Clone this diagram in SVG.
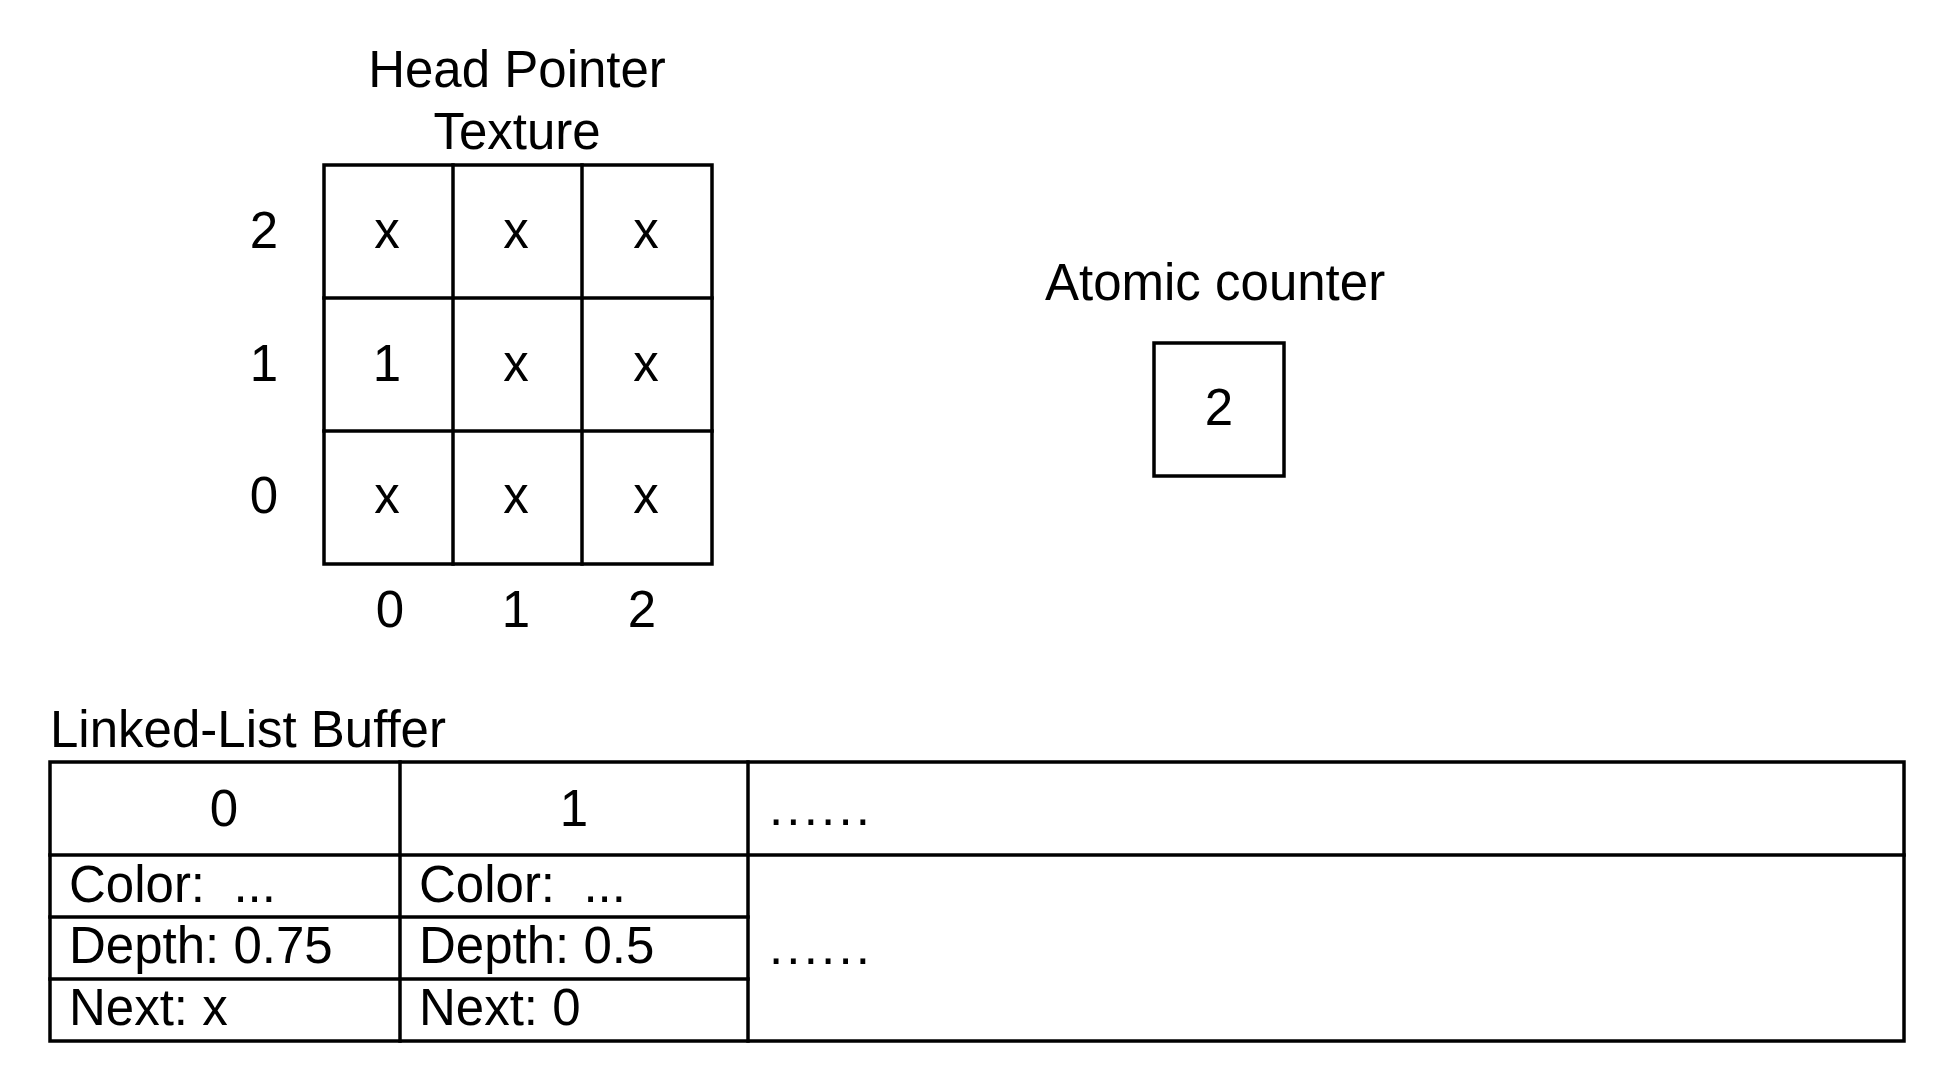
<svg xmlns="http://www.w3.org/2000/svg" width="1950" height="1088" viewBox="0 0 1950 1088">
<style>
text{font-family:"Liberation Sans",Arial,Helvetica,sans-serif;font-size:51px;fill:#000}
.m{text-anchor:middle}
.d{letter-spacing:3.2px}
.ln{stroke:#000;stroke-width:3.5;fill:none;stroke-linecap:square}
</style>
<rect width="1950" height="1088" fill="#fff"/>
<g id="head-pointer-texture">
<text class="m" x="517" y="87">Head Pointer</text>
<text class="m" x="517" y="149">Texture</text>
<rect class="ln" x="324" y="165" width="388" height="399"/>
<line class="ln" x1="453" y1="165" x2="453" y2="564"/>
<line class="ln" x1="582" y1="165" x2="582" y2="564"/>
<line class="ln" x1="324" y1="298" x2="712" y2="298"/>
<line class="ln" x1="324" y1="431" x2="712" y2="431"/>
<text class="m" x="387" y="248">x</text>
<text class="m" x="516" y="248">x</text>
<text class="m" x="646" y="248">x</text>
<text class="m" x="387" y="381">1</text>
<text class="m" x="516" y="381">x</text>
<text class="m" x="646" y="381">x</text>
<text class="m" x="387" y="513">x</text>
<text class="m" x="516" y="513">x</text>
<text class="m" x="646" y="513">x</text>
<text class="m" x="264" y="248">2</text>
<text class="m" x="264" y="381">1</text>
<text class="m" x="264" y="513">0</text>
<text class="m" x="390" y="627">0</text>
<text class="m" x="516" y="627">1</text>
<text class="m" x="642" y="627">2</text>
</g>
<g id="atomic-counter">
<text x="1045" y="300">Atomic counter</text>
<rect class="ln" x="1154" y="343" width="130" height="133"/>
<text class="m" x="1219" y="425">2</text>
</g>
<g id="linked-list-buffer">
<text x="50" y="747">Linked-List Buffer</text>
<rect class="ln" x="50" y="762" width="1854" height="279"/>
<line class="ln" x1="50" y1="855" x2="1904" y2="855"/>
<line class="ln" x1="50" y1="917" x2="748" y2="917"/>
<line class="ln" x1="50" y1="979" x2="748" y2="979"/>
<line class="ln" x1="400" y1="762" x2="400" y2="1041"/>
<line class="ln" x1="748" y1="762" x2="748" y2="1041"/>
<text class="m" x="224" y="826">0</text>
<text class="m" x="574" y="826">1</text>
<text class="d" x="769" y="825">......</text>
<text x="69" y="902" xml:space="preserve">Color:  ...</text>
<text x="69" y="963">Depth: 0.75</text>
<text x="69" y="1025">Next: x</text>
<text x="419" y="902" xml:space="preserve">Color:  ...</text>
<text x="419" y="963">Depth: 0.5</text>
<text x="419" y="1025">Next: 0</text>
<text class="d" x="769" y="964">......</text>
</g>
<g id="connectors"></g>
</svg>
